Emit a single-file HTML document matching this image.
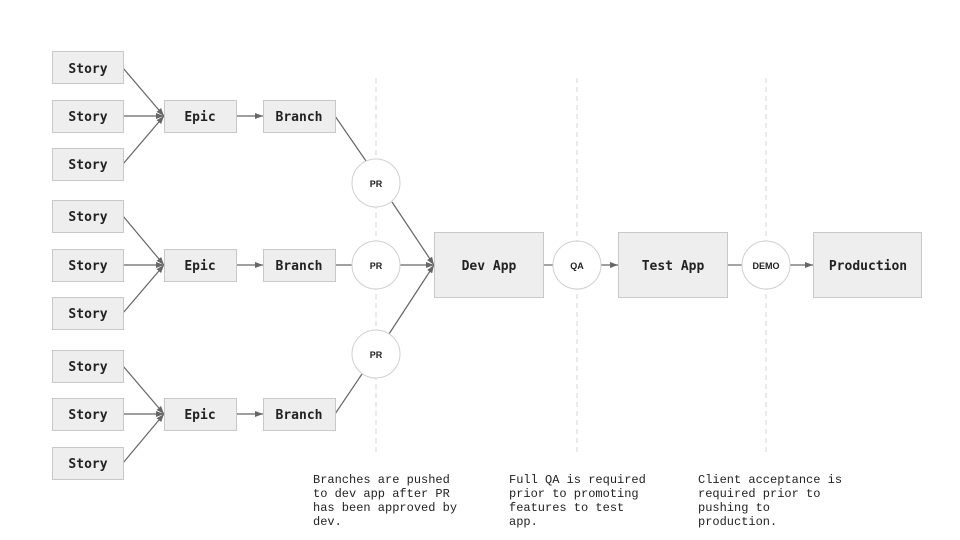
<!DOCTYPE html>
<html><head><meta charset="utf-8"><style>
html,body{margin:0;padding:0;background:#fff;}
svg{display:block;}
.b{fill:#eeeeee;stroke:#c8c8c8;stroke-width:1;}
.t{font-family:"DejaVu Sans Mono","Liberation Mono",monospace;font-weight:bold;font-size:13px;fill:#222;text-anchor:middle;dominant-baseline:central;transform:translateY(1.5px);}
.c{fill:#fff;stroke:#d0d0d0;stroke-width:1;}
.ct{font-family:"Liberation Sans",sans-serif;font-weight:bold;font-size:9px;fill:#222;text-anchor:middle;dominant-baseline:central;transform:translateY(1px);}
.l{stroke:#666;stroke-width:1.2;fill:none;}
.d{stroke:#d4d4d4;stroke-width:1;stroke-dasharray:5,4;}
.n{font-family:"Liberation Mono",monospace;font-size:12px;fill:#222;}
</style></head><body>
<svg width="960" height="540" viewBox="0 0 960 540" xmlns="http://www.w3.org/2000/svg">
<defs><marker id="a" markerWidth="8" markerHeight="6" refX="8" refY="3" orient="auto" markerUnits="userSpaceOnUse"><path d="M0,0 L8,3 L0,6 z" fill="#666"/></marker></defs>
<line class="d" x1="376" y1="78" x2="376" y2="455"/>
<line class="d" x1="577" y1="78" x2="577" y2="455"/>
<line class="d" x1="766" y1="78" x2="766" y2="455"/>

<line class="l" x1="123" y1="68" x2="164" y2="116" marker-end="url(#a)"/>
<line class="l" x1="123" y1="116" x2="164" y2="116" marker-end="url(#a)"/>
<line class="l" x1="123" y1="164" x2="164" y2="116" marker-end="url(#a)"/>
<line class="l" x1="236" y1="116" x2="263" y2="116" marker-end="url(#a)"/>
<line class="l" x1="123" y1="216" x2="164" y2="265" marker-end="url(#a)"/>
<line class="l" x1="123" y1="265" x2="164" y2="265" marker-end="url(#a)"/>
<line class="l" x1="123" y1="313" x2="164" y2="265" marker-end="url(#a)"/>
<line class="l" x1="236" y1="265" x2="263" y2="265" marker-end="url(#a)"/>
<line class="l" x1="123" y1="366" x2="164" y2="414" marker-end="url(#a)"/>
<line class="l" x1="123" y1="414" x2="164" y2="414" marker-end="url(#a)"/>
<line class="l" x1="123" y1="463" x2="164" y2="414" marker-end="url(#a)"/>
<line class="l" x1="236" y1="414" x2="263" y2="414" marker-end="url(#a)"/>

<line class="l" x1="335" y1="116" x2="366" y2="161"/>
<line class="l" x1="392" y1="202" x2="434" y2="265" marker-end="url(#a)"/>
<line class="l" x1="335" y1="265" x2="352" y2="265"/>
<line class="l" x1="400" y1="265" x2="434" y2="265" marker-end="url(#a)"/>
<line class="l" x1="335" y1="414" x2="362" y2="374"/>
<line class="l" x1="389" y1="334" x2="434" y2="265" marker-end="url(#a)"/>
<line class="l" x1="543" y1="265" x2="553" y2="265"/>
<line class="l" x1="601" y1="265" x2="618" y2="265" marker-end="url(#a)"/>
<line class="l" x1="727" y1="265" x2="742" y2="265"/>
<line class="l" x1="790" y1="265" x2="813" y2="265" marker-end="url(#a)"/>

<rect class="b" x="52.5" y="51.5" width="71" height="32"/><text class="t" x="88" y="68">Story</text>
<rect class="b" x="52.5" y="100.5" width="71" height="32"/><text class="t" x="88" y="116">Story</text>
<rect class="b" x="52.5" y="148.5" width="71" height="32"/><text class="t" x="88" y="164">Story</text>
<rect class="b" x="52.5" y="200.5" width="71" height="32"/><text class="t" x="88" y="216">Story</text>
<rect class="b" x="52.5" y="249.5" width="71" height="32"/><text class="t" x="88" y="265">Story</text>
<rect class="b" x="52.5" y="297.5" width="71" height="32"/><text class="t" x="88" y="313">Story</text>
<rect class="b" x="52.5" y="350.5" width="71" height="32"/><text class="t" x="88" y="366">Story</text>
<rect class="b" x="52.5" y="398.5" width="71" height="32"/><text class="t" x="88" y="414">Story</text>
<rect class="b" x="52.5" y="447.5" width="71" height="32"/><text class="t" x="88" y="463">Story</text>

<rect class="b" x="164.5" y="100.5" width="72" height="32"/><text class="t" x="200" y="116">Epic</text>
<rect class="b" x="164.5" y="249.5" width="72" height="32"/><text class="t" x="200" y="265">Epic</text>
<rect class="b" x="164.5" y="398.5" width="72" height="32"/><text class="t" x="200" y="414">Epic</text>
<rect class="b" x="263.5" y="100.5" width="72" height="32"/><text class="t" x="299" y="116">Branch</text>
<rect class="b" x="263.5" y="249.5" width="72" height="32"/><text class="t" x="299" y="265">Branch</text>
<rect class="b" x="263.5" y="398.5" width="72" height="32"/><text class="t" x="299" y="414">Branch</text>

<circle class="c" cx="376" cy="183" r="24"/><text class="ct" x="376" y="183">PR</text>
<circle class="c" cx="376" cy="265" r="24"/><text class="ct" x="376" y="265">PR</text>
<circle class="c" cx="376" cy="354" r="24"/><text class="ct" x="376" y="354">PR</text>

<rect class="b" x="434.5" y="232.5" width="109" height="65"/><text class="t" x="489" y="265">Dev App</text>
<circle class="c" cx="577" cy="265" r="24"/><text class="ct" x="577" y="265">QA</text>
<rect class="b" x="618.5" y="232.5" width="109" height="65"/><text class="t" x="673" y="265">Test App</text>
<circle class="c" cx="766" cy="265" r="24"/><text class="ct" x="766" y="265">DEMO</text>
<rect class="b" x="813.5" y="232.5" width="108" height="65"/><text class="t" x="868" y="265">Production</text>

<text class="n" x="313" y="483">Branches are pushed</text>
<text class="n" x="313" y="497">to dev app after PR</text>
<text class="n" x="313" y="511">has been approved by</text>
<text class="n" x="313" y="525">dev.</text>
<text class="n" x="509" y="483">Full QA is required</text>
<text class="n" x="509" y="497">prior to promoting</text>
<text class="n" x="509" y="511">features to test</text>
<text class="n" x="509" y="525">app.</text>
<text class="n" x="698" y="483">Client acceptance is</text>
<text class="n" x="698" y="497">required prior to</text>
<text class="n" x="698" y="511">pushing to</text>
<text class="n" x="698" y="525">production.</text>
</svg>
</body></html>
